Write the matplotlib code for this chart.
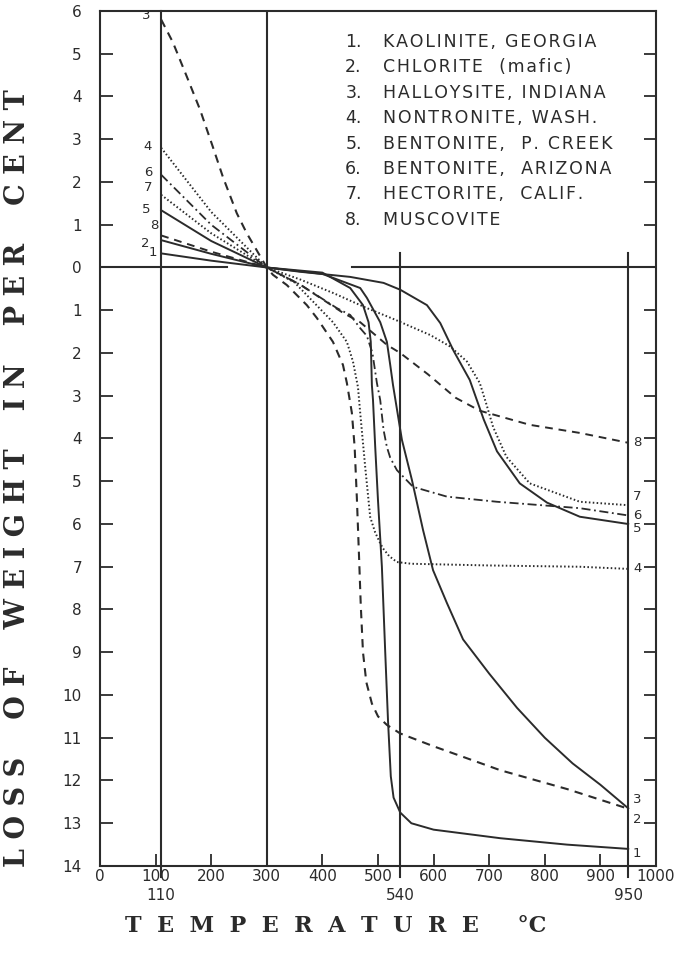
import matplotlib
matplotlib.use("Agg")
import matplotlib.pyplot as plt

# Kurven: Temperatur (°C) und Gewichtsverlust (%), Gewinn negativ
t1 = [110, 200, 300, 400, 450, 473, 483, 487, 489, 491, 495, 500, 507, 513, 518, 523, 528, 540, 560, 600, 720, 840, 950]
l1 = [-0.33, -0.16, 0, 0.12, 0.48, 0.88, 1.28, 1.74, 2.75, 3.1, 4.2, 5.45, 7.0, 9.0, 10.6, 11.9, 12.4, 12.75, 13.0, 13.15, 13.35, 13.5, 13.6]

t2 = [110, 200, 300, 400, 468, 480, 504, 516, 522, 527, 543, 561, 581, 599, 624, 653, 700, 750, 800, 850, 900, 950]
l2 = [-0.64, -0.32, 0, 0.15, 0.48, 0.71, 1.28, 1.74, 2.28, 2.75, 4.03, 4.97, 6.14, 7.08, 7.85, 8.7, 9.5, 10.3, 11.0, 11.6, 12.1, 12.65]

t3 = [110, 131, 156, 180, 203, 221, 246, 264, 300, 311, 336, 372, 390, 419, 437, 444, 453, 458, 462, 466, 469, 473, 479, 489, 500, 516, 540, 600, 720, 840, 950]
l3 = [-5.8, -5.27, -4.47, -3.69, -2.82, -2.12, -1.27, -0.8, 0, 0.17, 0.41, 0.88, 1.18, 1.74, 2.28, 2.7, 3.4, 4.2, 5.4, 6.8, 7.9, 9.0, 9.7, 10.2, 10.5, 10.7, 10.9, 11.2, 11.76, 12.2, 12.66]

t4 = [110, 200, 300, 350, 419, 444, 455, 464, 468, 477, 486, 495, 504, 509, 520, 534, 560, 700, 863, 950]
l4 = [-2.8, -1.3, 0, 0.35, 1.28, 1.74, 2.2, 2.8, 3.4, 4.67, 5.84, 6.2, 6.45, 6.57, 6.75, 6.89, 6.93, 6.97, 7.0, 7.05]

t5 = [110, 200, 300, 360, 450, 510, 540, 588, 612, 636, 665, 690, 714, 755, 804, 863, 950]
l5 = [-1.34, -0.62, 0, 0.1, 0.22, 0.36, 0.52, 0.88, 1.3, 1.95, 2.63, 3.55, 4.3, 5.05, 5.5, 5.83, 6.0]

t6 = [110, 200, 300, 360, 426, 450, 468, 480, 490, 498, 504, 510, 516, 522, 534, 563, 624, 714, 863, 950]
l6 = [-2.17, -1.0, 0, 0.4, 0.95, 1.11, 1.42, 1.6, 2.0, 2.7, 3.1, 3.8, 4.2, 4.45, 4.74, 5.13, 5.36, 5.48, 5.63, 5.8]

t7 = [110, 200, 300, 360, 420, 480, 527, 594, 630, 660, 683, 695, 707, 731, 773, 863, 950]
l7 = [-1.7, -0.8, 0, 0.28, 0.6, 0.95, 1.2, 1.58, 1.85, 2.2, 2.7, 3.2, 3.73, 4.43, 5.05, 5.48, 5.56]

t8 = [110, 200, 300, 360, 437, 468, 516, 540, 590, 640, 683, 773, 863, 950]
l8 = [-0.75, -0.37, 0, 0.4, 1.06, 1.28, 1.81, 2.0, 2.5, 3.05, 3.35, 3.68, 3.87, 4.1]

minerals = ["KAOLINITE, GEORGIA", "CHLORITE  (mafic)", "HALLOYSITE, INDIANA", "NONTRONITE, WASH.",
            "BENTONITE,  P. CREEK", "BENTONITE,  ARIZONA", "HECTORITE,  CALIF.", "MUSCOVITE"]
numbers = ["1.", "2.", "3.", "4.", "5.", "6.", "7.", "8."]

x_ticks = list(range(0, 1001, 100))
y_ticks = list(range(-6, 15))
y_tick_labels = [str(abs(v)) for v in y_ticks]
marks = [110, 540, 950]

ink = "#2b2b2b"
W, H = 679, 956


def spaced(s):
    # Sperrsatz mit Haarspatien
    return "\u200a".join(s)


fig = plt.figure(figsize=(W / 100, H / 100), dpi=100)
ax = fig.add_axes([100 / W, 1 - 866 / H, 556 / W, 855 / H])
ax.set_xlim(0, 1000)
ax.set_ylim(14, -6)

solid = "-"
dash = (0, (4, 3))
dot = (0, (0.8, 1.2))
dashdot = (0, (5, 2, 1, 2))

curves = [
    (t1, l1, solid, 1.4),
    (t2, l2, solid, 1.4),
    (t3, l3, dash, 1.5),
    (t4, l4, dot, 1.4),
    (t5, l5, solid, 1.4),
    (t6, l6, dashdot, 1.3),
    (t7, l7, dot, 1.4),
    (t8, l8, dash, 1.4),
]
for t, l, ls, lw in curves:
    ax.plot(t, l, color=ink, linestyle=ls, linewidth=lw)

# Bezugslinien
ax.plot([110, 110], [-6, 14.25], color=ink, lw=1.5, clip_on=False)
ax.plot([300, 300], [-6, 14], color=ink, lw=1.5)
ax.plot([540, 540], [-0.35, 14.25], color=ink, lw=1.5, clip_on=False)
ax.plot([950, 950], [-0.35, 14.25], color=ink, lw=1.5, clip_on=False)
ax.plot([0, 228], [0, 0], color=ink, lw=1.5)
ax.plot([453, 1000], [0, 0], color=ink, lw=1.5)

for s in ax.spines.values():
    s.set_color(ink)
    s.set_linewidth(1.5)

ax.set_xticks(x_ticks)
ax.set_xticklabels([str(v) for v in x_ticks], fontsize=11, color=ink)
ax.set_yticks(y_ticks)
ax.set_yticklabels(y_tick_labels, fontsize=11, color=ink)
ax.tick_params(axis="x", direction="in", length=9, width=1.3, pad=2, colors=ink)
ax.tick_params(axis="y", direction="in", length=9, width=1.3, pad=13, colors=ink,
               left=True, right=True)

# Zusatzbeschriftung unter der x-Achse
for m in marks:
    ax.text(m, 14.68, str(m), ha="center", va="center", fontsize=11, color=ink, clip_on=False)

# Kurvennummern links
left_nums = [("3", 84, -5.9), ("4", 86, -2.82), ("6", 86, -2.23), ("7", 86, -1.86),
             ("5", 83, -1.35), ("8", 97, -0.99), ("2", 81, -0.57), ("1", 95, -0.34)]
for s, x, y in left_nums:
    ax.text(x, y, s, ha="center", va="center", fontsize=9.5, color=ink)

# Kurvennummern rechts
right_nums = [("8", 4.1), ("7", 5.35), ("6", 5.8), ("5", 6.1), ("4", 7.05),
              ("3", 12.45), ("2", 12.92), ("1", 13.7)]
for s, y in right_nums:
    ax.text(966, y, s, ha="center", va="center", fontsize=9.5, color=ink)

# Legende
for i, (n, name) in enumerate(zip(numbers, minerals)):
    y = (42 + i * 25.4 - 267.5) / 42.75
    ax.text(441, y, n, ha="left", va="center", fontsize=12.5, color=ink)
    ax.text(509, y, spaced(name), ha="left", va="center", fontsize=12.5, color=ink)

fig.text(18 / W, 1 - 478 / H, "L O S S    O F    W E I G H T    I N    P E R    C E N T",
         rotation=90, ha="center", va="center", fontsize=19.5, fontweight="bold",
         family="DejaVu Serif", color=ink)
fig.text(336 / W, 1 - 926 / H, "T  E  M  P  E  R  A  T  U  R  E     °C",
         ha="center", va="center", fontsize=16, fontweight="bold",
         family="DejaVu Serif", color=ink)

fig.savefig("out.png", dpi=100, facecolor="white")
